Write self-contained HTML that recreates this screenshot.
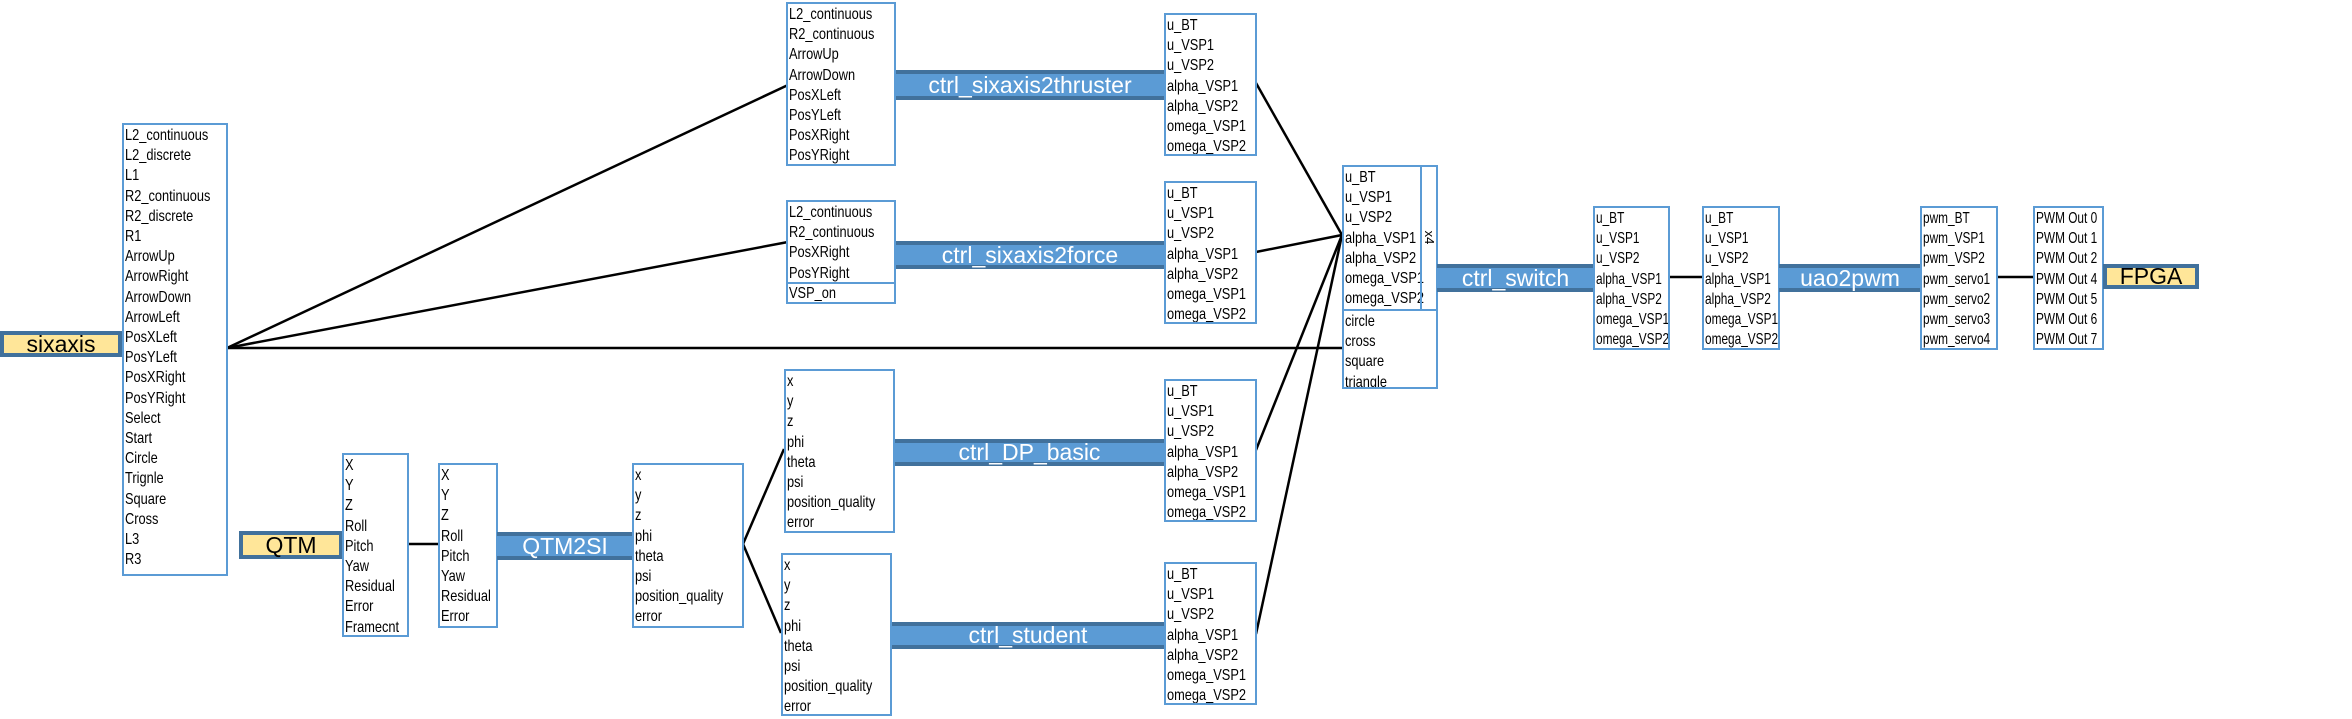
<!DOCTYPE html>
<html><head><meta charset="utf-8"><style>
body{margin:0;width:2352px;height:719px;background:#fff;position:relative;overflow:hidden;font-family:"Liberation Sans",sans-serif}
.b{position:absolute;border:2px solid #5b9bd5;box-sizing:border-box;background:#fff;color:#000;padding:1px 0 0 1px;white-space:nowrap;overflow:hidden}
.t{font-size:16px;line-height:20.2px;transform:scaleX(.8);transform-origin:0 0;width:200px}
.n .t{transform:scaleX(.74)}
.bar{position:absolute;background:#5b9bd5;border-top:4px solid #41719c;border-bottom:4px solid #41719c;box-sizing:border-box;color:#fff;font-size:23px;text-align:center;display:flex;align-items:center;justify-content:center}
.y{position:absolute;background:#ffe699;border:4px solid #41719c;box-sizing:border-box;color:#000;font-size:23px;display:flex;align-items:center;justify-content:center}
svg{position:absolute;left:0;top:0}
</style></head><body>
<svg width="2352" height="719">
<g stroke="#000" stroke-width="2.5" fill="none">
<line x1="227" y1="348" x2="788" y2="85"/>
<line x1="227" y1="348" x2="788" y2="242"/>
<line x1="227" y1="348" x2="1342" y2="348"/>
<line x1="1256" y1="83" x2="1342" y2="235"/>
<line x1="1256" y1="252" x2="1342" y2="235"/>
<line x1="1256" y1="450" x2="1342" y2="235"/>
<line x1="1256" y1="634" x2="1342" y2="235"/>
<line x1="408" y1="544" x2="438" y2="544"/>
<line x1="743" y1="544" x2="784" y2="449"/>
<line x1="743" y1="544" x2="781" y2="633"/>
<line x1="1669" y1="277" x2="1702" y2="277"/>
<line x1="1997" y1="277" x2="2033" y2="277"/>
</g></svg>

<div class="y" style="left:0;top:331px;width:122px;height:26px">sixaxis</div>
<div class="b" style="left:122px;top:123px;width:106px;height:453px"><div class="t">L2_continuous<br>L2_discrete<br>L1<br>R2_continuous<br>R2_discrete<br>R1<br>ArrowUp<br>ArrowRight<br>ArrowDown<br>ArrowLeft<br>PosXLeft<br>PosYLeft<br>PosXRight<br>PosYRight<br>Select<br>Start<br>Circle<br>Trignle<br>Square<br>Cross<br>L3<br>R3</div></div>

<div class="b" style="left:786px;top:2px;width:110px;height:164px"><div class="t">L2_continuous<br>R2_continuous<br>ArrowUp<br>ArrowDown<br>PosXLeft<br>PosYLeft<br>PosXRight<br>PosYRight</div></div>
<div class="bar" style="left:896px;top:70px;width:268px;height:30px">ctrl_sixaxis2thruster</div>
<div class="b" style="left:1164px;top:13px;width:93px;height:143px"><div class="t">u_BT<br>u_VSP1<br>u_VSP2<br>alpha_VSP1<br>alpha_VSP2<br>omega_VSP1<br>omega_VSP2</div></div>

<div class="b" style="left:786px;top:200px;width:110px;height:84px"><div class="t">L2_continuous<br>R2_continuous<br>PosXRight<br>PosYRight</div></div>
<div class="b" style="left:786px;top:282px;width:110px;height:22px;padding-top:0"><div class="t">VSP_on</div></div>
<div class="bar" style="left:896px;top:241px;width:268px;height:28px">ctrl_sixaxis2force</div>
<div class="b" style="left:1164px;top:181px;width:93px;height:143px"><div class="t">u_BT<br>u_VSP1<br>u_VSP2<br>alpha_VSP1<br>alpha_VSP2<br>omega_VSP1<br>omega_VSP2</div></div>

<div class="b" style="left:784px;top:369px;width:111px;height:164px"><div class="t">x<br>y<br>z<br>phi<br>theta<br>psi<br>position_quality<br>error</div></div>
<div class="bar" style="left:895px;top:439px;width:269px;height:27px">ctrl_DP_basic</div>
<div class="b" style="left:1164px;top:379px;width:93px;height:143px"><div class="t">u_BT<br>u_VSP1<br>u_VSP2<br>alpha_VSP1<br>alpha_VSP2<br>omega_VSP1<br>omega_VSP2</div></div>

<div class="b" style="left:781px;top:553px;width:111px;height:163px"><div class="t">x<br>y<br>z<br>phi<br>theta<br>psi<br>position_quality<br>error</div></div>
<div class="bar" style="left:892px;top:622px;width:272px;height:27px">ctrl_student</div>
<div class="b" style="left:1164px;top:562px;width:93px;height:143px"><div class="t">u_BT<br>u_VSP1<br>u_VSP2<br>alpha_VSP1<br>alpha_VSP2<br>omega_VSP1<br>omega_VSP2</div></div>

<div class="y" style="left:239px;top:531px;width:104px;height:28px">QTM</div>
<div class="b" style="left:342px;top:453px;width:67px;height:184px"><div class="t">X<br>Y<br>Z<br>Roll<br>Pitch<br>Yaw<br>Residual<br>Error<br>Framecnt</div></div>
<div class="b" style="left:438px;top:463px;width:60px;height:165px"><div class="t">X<br>Y<br>Z<br>Roll<br>Pitch<br>Yaw<br>Residual<br>Error</div></div>
<div class="bar" style="left:497px;top:532px;width:136px;height:28px">QTM2SI</div>
<div class="b" style="left:632px;top:463px;width:112px;height:165px"><div class="t">x<br>y<br>z<br>phi<br>theta<br>psi<br>position_quality<br>error</div></div>

<div class="b" style="left:1342px;top:165px;width:96px;height:146px"><div class="t">u_BT<br>u_VSP1<br>u_VSP2<br>alpha_VSP1<br>alpha_VSP2<br>omega_VSP1<br>omega_VSP2</div></div>
<div style="position:absolute;left:1420px;top:166px;width:2px;height:144px;background:#5b9bd5"></div>
<div style="position:absolute;left:1422px;top:230px;width:15px;font-size:13px;transform:rotate(90deg);text-align:center">x4</div>
<div class="b" style="left:1342px;top:309px;width:96px;height:80px"><div class="t">circle<br>cross<br>square<br>triangle</div></div>
<div class="bar" style="left:1437px;top:264px;width:157px;height:28px">ctrl_switch</div>
<div class="b n" style="left:1593px;top:206px;width:77px;height:144px"><div class="t">u_BT<br>u_VSP1<br>u_VSP2<br>alpha_VSP1<br>alpha_VSP2<br>omega_VSP1<br>omega_VSP2</div></div>
<div class="b n" style="left:1702px;top:206px;width:78px;height:144px"><div class="t">u_BT<br>u_VSP1<br>u_VSP2<br>alpha_VSP1<br>alpha_VSP2<br>omega_VSP1<br>omega_VSP2</div></div>
<div class="bar" style="left:1779px;top:264px;width:142px;height:28px">uao2pwm</div>
<div class="b n" style="left:1920px;top:206px;width:78px;height:144px"><div class="t">pwm_BT<br>pwm_VSP1<br>pwm_VSP2<br>pwm_servo1<br>pwm_servo2<br>pwm_servo3<br>pwm_servo4</div></div>
<div class="b n" style="left:2033px;top:206px;width:71px;height:144px"><div class="t">PWM Out 0<br>PWM Out 1<br>PWM Out 2<br>PWM Out 4<br>PWM Out 5<br>PWM Out 6<br>PWM Out 7</div></div>
<div class="y" style="left:2103px;top:264px;width:96px;height:25px">FPGA</div>
</body></html>
